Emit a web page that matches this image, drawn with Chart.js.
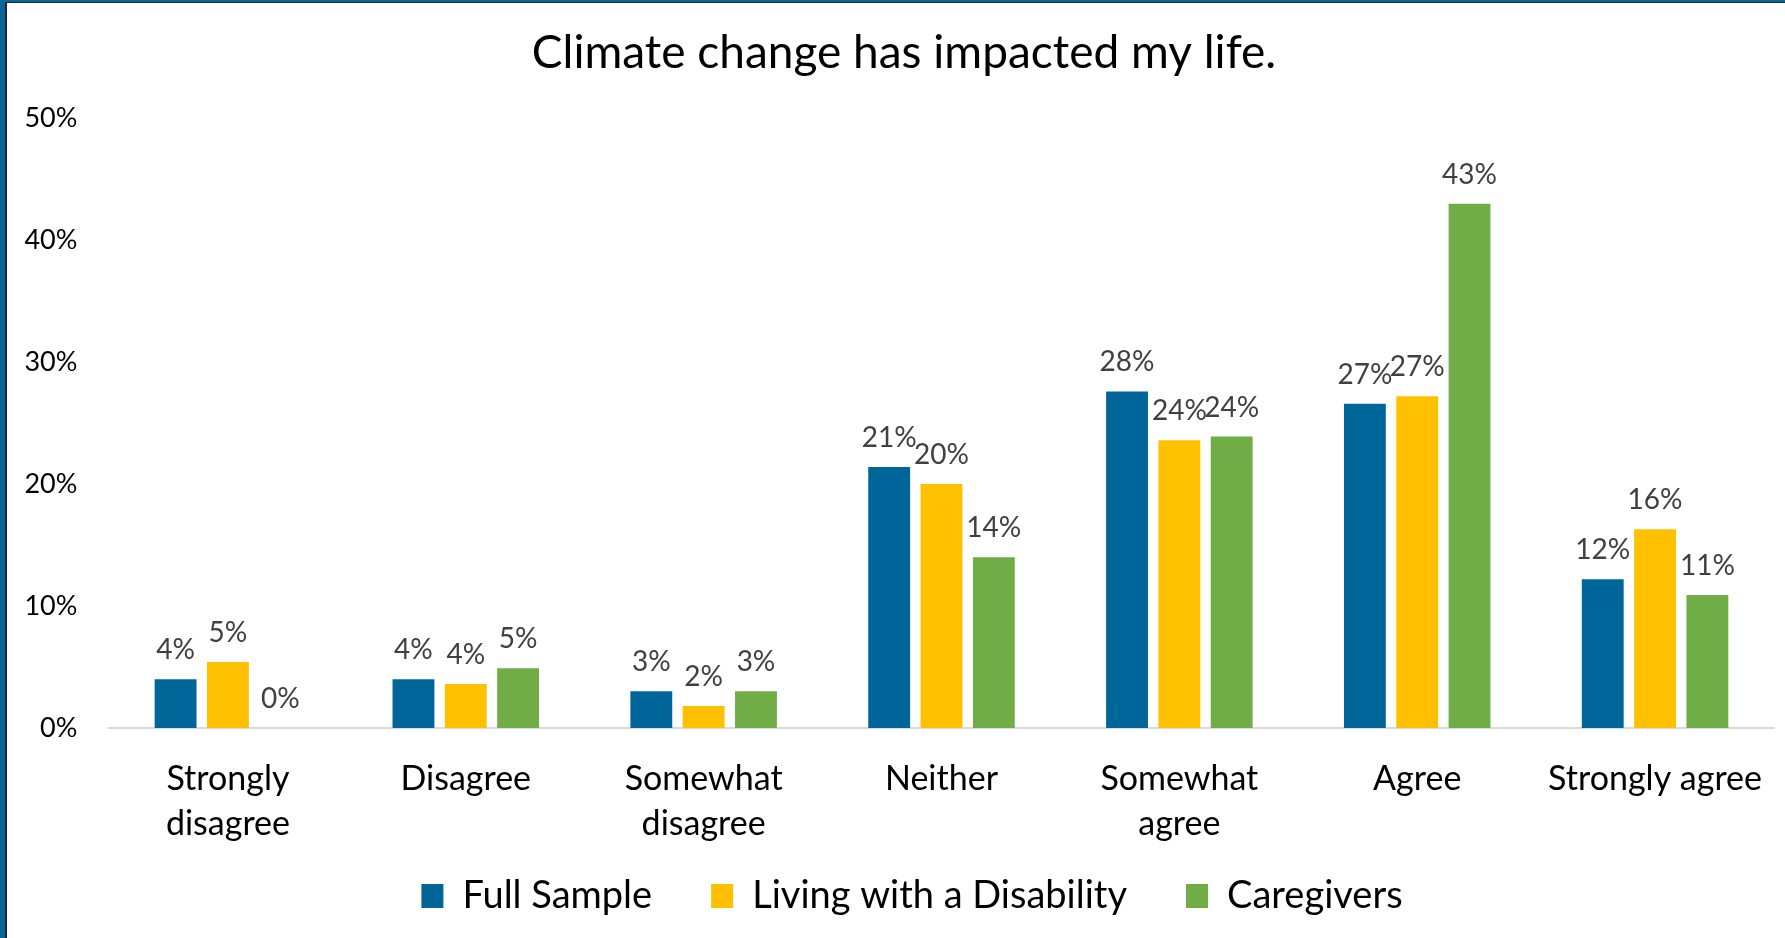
<!DOCTYPE html>
<html>
<head>
<meta charset="utf-8">
<script src="https://cdn.jsdelivr.net/npm/chart.js@4/dist/chart.umd.min.js"></script>
<style>
    html, body { margin: 0; padding: 0; background: #fff; }
    #wrap { position: relative; width: 1785px; height: 938px; }
    #frame { position: absolute; left: 0; top: 0; width: 1785px; height: 938px; box-sizing: border-box;
        border-left: 5px solid #0b6597; border-top: 2px solid #0b6597; pointer-events: none; }
    #frame div { width: 100%; height: 100%; box-sizing: border-box;
        border-left: 2px solid #1d2733; border-top: 1px solid #1d2733; }
</style>
</head>
<body>
<div id="wrap">
    <canvas id="climaChart" width="1785" height="938"></canvas>
    <div id="frame"><div></div></div>
</div>
<script>
const categorias = [
    ['Strongly', 'disagree'],
    'Disagree',
    ['Somewhat', 'disagree'],
    'Neither',
    ['Somewhat', 'agree'],
    'Agree',
    'Strongly agree'
];
const fullSample = [4.0, 4.0, 3.0, 21.4, 27.6, 26.6, 12.2];
const disability = [5.4, 3.6, 1.8, 20.0, 23.6, 27.2, 16.3];
const caregivers = [0.0, 4.9, 3.0, 14.0, 23.9, 43.0, 10.9];
const yTicks = [0, 10, 20, 30, 40, 50];

const FONTE = 'Lato, "Open Sans", sans-serif';

// rotulos de valor acima de cada barra
const rotulosPlugin = {
    id: 'rotulos',
    afterDatasetsDraw(chart) {
        const ctx = chart.ctx;
        ctx.save();
        ctx.font = '28px ' + FONTE;
        ctx.fillStyle = '#404040';
        ctx.textAlign = 'center';
        ctx.textBaseline = 'alphabetic';
        chart.data.datasets.forEach((ds, i) => {
            chart.getDatasetMeta(i).data.forEach((bar, j) => {
                ctx.fillText(Math.round(ds.data[j]) + '%', bar.x, bar.y - 20);
            });
        });
        ctx.restore();
    }
};

// ajuste fino de titulo e legenda depois do layout
const ajustePlugin = {
    id: 'ajuste',
    afterLayout(chart) {
        const lg = chart.legend;
        lg.top -= 57; lg.bottom -= 57;
        lg.left += 25; lg.right += 25;
        const tt = chart.titleBlock;
        tt.left += 17; tt.right += 17;
    }
};

new Chart(document.getElementById('climaChart').getContext('2d'), {
    type: 'bar',
    data: {
        labels: categorias,
        datasets: [
            {label: 'Full Sample', data: fullSample, backgroundColor: '#006699'},
            {label: 'Living with a Disability', data: disability, backgroundColor: '#ffc000'},
            {label: 'Caregivers', data: caregivers, backgroundColor: '#70ad47'}
        ]
    },
    options: {
        responsive: false,
        animation: false,
        categoryPercentage: 0.66,
        barPercentage: 0.80,
        layout: {padding: {left: 0, right: 11, top: 0, bottom: -44}},
        scales: {
            x: {
                grid: {display: false, drawTicks: false},
                border: {display: true, color: '#d9d9d9', width: 2},
                ticks: {
                    color: '#000',
                    padding: 29,
                    maxRotation: 0,
                    autoSkip: false,
                    font: {family: FONTE, size: 34, lineHeight: 1.31}
                },
                afterFit: s => { s.paddingLeft = 0; s.paddingRight = 0; }
            },
            y: {
                min: 0,
                max: 50,
                grid: {display: false, drawTicks: false},
                border: {display: false},
                afterBuildTicks: s => { s.ticks = yTicks.map(v => ({value: v})); },
                ticks: {
                    color: '#000',
                    padding: 31.6,
                    font: {family: FONTE, size: 27},
                    callback: v => v + '%'
                },
                afterFit: s => { s.width = 109; }
            }
        },
        plugins: {
            title: {
                display: true,
                text: 'Climate change has impacted my life.',
                color: '#000',
                font: {family: FONTE, size: 46, weight: 'normal', lineHeight: 1.2},
                padding: {top: 26, bottom: 37.2}
            },
            legend: {
                position: 'bottom',
                labels: {
                    color: '#000',
                    boxWidth: 22,
                    boxHeight: 24,
                    padding: 59,
                    font: {family: FONTE, size: 38}
                }
            },
            tooltip: {enabled: false}
        }
    },
    plugins: [rotulosPlugin, ajustePlugin]
});
</script>
</body>
</html>
